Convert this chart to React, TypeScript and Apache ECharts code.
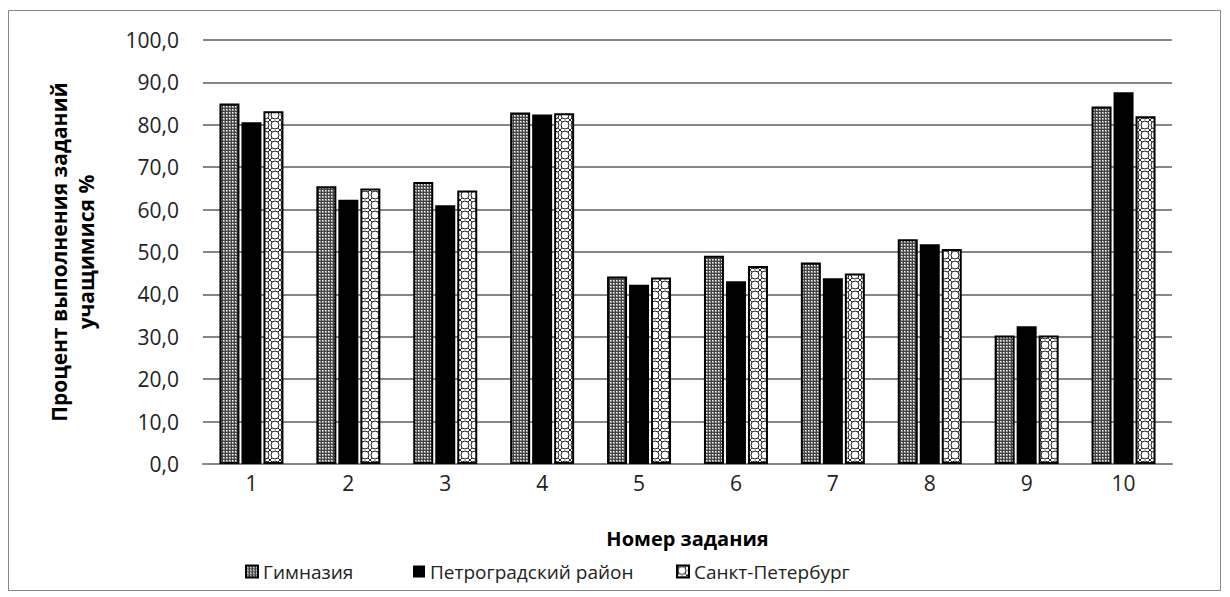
import React, { useEffect, useRef } from "react";
import * as echarts from "echarts";

const categories = ["1", "2", "3", "4", "5", "6", "7", "8", "9", "10"];
const gymnasium = [85.0, 65.5, 66.5, 82.9, 44.2, 49.1, 47.5, 53.0, 30.3, 84.3];
const petrograd = [80.6, 62.3, 61.0, 82.4, 42.3, 43.1, 43.8, 51.8, 32.5, 87.7];
const spb = [83.2, 65.0, 64.5, 82.7, 44.0, 46.7, 44.9, 50.7, 30.3, 82.0];
const seriesNames = ["Гимназия", "Петроградский район", "Санкт-Петербург"];
const yTicksMax = 100;
const yInterval = 10;

function makeGymTile(): HTMLCanvasElement {
  const c = document.createElement("canvas");
  c.width = 3;
  c.height = 3;
  const ctx = c.getContext("2d")!;
  ctx.fillStyle = "#999999";
  ctx.fillRect(0, 0, 3, 3);
  ctx.fillStyle = "#ffffff";
  ctx.fillRect(1, 1, 1, 1);
  ctx.fillStyle = "#444444";
  ctx.fillRect(0, 0, 3, 1);
  ctx.fillRect(0, 0, 1, 3);
  return c;
}

function makeSpbTile(): HTMLCanvasElement {
  const c = document.createElement("canvas");
  c.width = 10;
  c.height = 10;
  const ctx = c.getContext("2d")!;
  ctx.fillStyle = "#ffffff";
  ctx.fillRect(0, 0, 10, 10);
  ctx.strokeStyle = "#222222";
  ctx.lineWidth = 1;
  ctx.beginPath();
  ctx.arc(5, 5, 4.0, 0, Math.PI * 2);
  ctx.stroke();
  ctx.beginPath();
  ctx.moveTo(0, 0); ctx.lineTo(2, 2);
  ctx.moveTo(10, 0); ctx.lineTo(8, 2);
  ctx.moveTo(0, 10); ctx.lineTo(2, 8);
  ctx.moveTo(10, 10); ctx.lineTo(8, 8);
  ctx.stroke();
  return c;
}

export default function App() {
  const ref = useRef<HTMLDivElement>(null);
  useEffect(() => {
    if (!ref.current) return;
    const chart = echarts.init(ref.current, undefined, { renderer: "svg" });
    const gymPattern: any = { image: makeGymTile(), repeat: "repeat", imageWidth: 3, imageHeight: 3 };
    const spbPattern: any = { image: makeSpbTile(), repeat: "repeat", imageWidth: 10, imageHeight: 10 };
    const font = "'Open Sans', 'Noto Sans', sans-serif";
    const legendText = { fontFamily: font, fontSize: 19, color: "#222" };
    const legendBase = {
      top: 557,
      icon: "rect",
      itemWidth: 12,
      itemHeight: 12,
      itemGap: 0,
      textStyle: legendText,
    };
    chart.setOption({
      animation: false,
      backgroundColor: "#ffffff",
      textStyle: { fontFamily: font },
      graphic: [
        {
          type: "rect",
          shape: { x: 8.5, y: 10.5, width: 1212, height: 580 },
          style: { fill: "none", stroke: "#868686", lineWidth: 1 },
          silent: true,
        },
      ],
      grid: { left: 203, right: 58, top: 40, bottom: 133 },
      legend: [
        { ...legendBase, left: 240, data: [seriesNames[0]] },
        { ...legendBase, left: 408, data: [seriesNames[1]] },
        { ...legendBase, left: 671, data: [seriesNames[2]] },
      ],
      xAxis: {
        type: "category",
        data: categories,
        name: "Номер задания",
        nameLocation: "middle",
        nameGap: 64,
        nameTextStyle: { fontFamily: font, fontSize: 20, fontWeight: "bold", color: "#000" },
        axisLine: { lineStyle: { color: "#868686", width: 2 } },
        axisTick: { show: false },
        axisLabel: { fontFamily: font, fontSize: 21, color: "#222", margin: 8 },
      },
      yAxis: {
        type: "value",
        min: 0,
        max: yTicksMax,
        interval: yInterval,
        name: "Процент выполнения заданий\nучащимися %",
        nameLocation: "middle",
        nameGap: 104,
        nameRotate: 90,
        nameTextStyle: { fontFamily: font, fontSize: 21, fontWeight: "bold", color: "#000", lineHeight: 27 },
        axisLine: { show: false },
        axisTick: { show: false },
        splitLine: { lineStyle: { color: "#868686", width: 2 } },
        axisLabel: {
          fontFamily: font,
          fontSize: 21,
          color: "#222",
          margin: 24,
          formatter: (v: number) => v.toFixed(1).replace(".", ","),
        },
      },
      series: [
        {
          name: seriesNames[0],
          type: "bar",
          data: gymnasium,
          barWidth: 20,
          barGap: "10%",
          itemStyle: { color: gymPattern, borderColor: "#000", borderWidth: 2 },
        },
        {
          name: seriesNames[1],
          type: "bar",
          data: petrograd,
          barWidth: 20,
          barGap: "10%",
          itemStyle: { color: "#000", borderColor: "#000", borderWidth: 0 },
        },
        {
          name: seriesNames[2],
          type: "bar",
          data: spb,
          barWidth: 20,
          barGap: "10%",
          itemStyle: { color: spbPattern, borderColor: "#000", borderWidth: 2 },
        },
      ],
    });
    return () => chart.dispose();
  }, []);
  return (
    <div
      ref={ref}
      style={{ position: "absolute", left: 0, top: 0, width: 1230, height: 597 }}
    />
  );
}
